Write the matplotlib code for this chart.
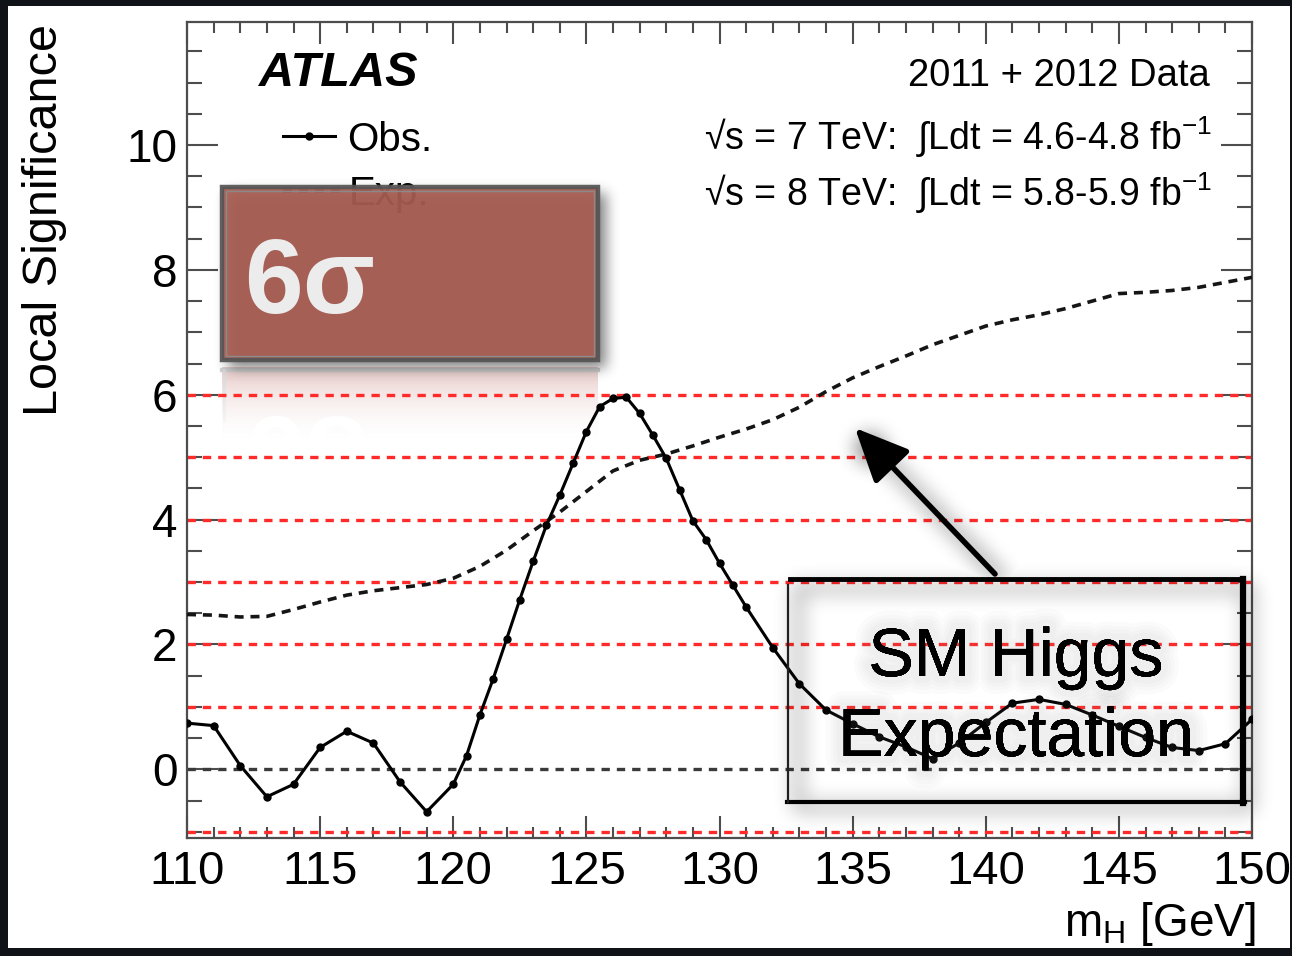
import numpy as np
import matplotlib
matplotlib.use('Agg')
import matplotlib.pyplot as plt
from matplotlib.patches import Rectangle, PathPatch
from matplotlib.textpath import TextPath
from matplotlib.font_manager import FontProperties
from matplotlib.ticker import MultipleLocator
import matplotlib.patheffects as pe

# ---------------- data ----------------
mass_obs = [110, 111, 112, 113, 114, 115, 116, 117, 118, 119, 120,
            120.5, 121, 121.5, 122, 122.5, 123, 123.5, 124, 124.5, 125,
            125.5, 126, 126.5, 127, 127.5, 128, 128.5, 129, 129.5, 130,
            130.5, 131, 132, 133, 134, 135, 136, 137, 138, 139, 140,
            141, 142, 143, 144, 145, 146, 147, 148, 149, 150]
z_obs = [0.74, 0.70, 0.06, -0.44, -0.24, 0.35, 0.61, 0.42, -0.20, -0.68, -0.24,
         0.22, 0.87, 1.45, 2.08, 2.72, 3.33, 3.91, 4.39, 4.90, 5.41,
         5.81, 5.94, 5.96, 5.70, 5.35, 4.98, 4.48, 3.98, 3.68, 3.30,
         2.95, 2.60, 1.95, 1.37, 0.95, 0.73, 0.52, 0.36, 0.17, 0.42, 0.75,
         1.06, 1.12, 1.04, 0.87, 0.69, 0.51, 0.35, 0.30, 0.41, 0.80]

mass_exp = [110, 111, 112, 113, 114, 115, 116, 117, 118, 119, 120,
            121, 122, 123, 124, 125, 126, 127, 128, 129, 130,
            131, 132, 133, 134, 135, 136, 137, 138, 139, 140,
            141, 142, 143, 144, 145, 146, 147, 148, 149, 150]
z_exp = [2.48, 2.47, 2.44, 2.45, 2.56, 2.68, 2.79, 2.86, 2.91, 2.96, 3.06,
         3.25, 3.51, 3.82, 4.12, 4.45, 4.78, 4.95, 5.05, 5.18, 5.32,
         5.45, 5.60, 5.80, 6.05, 6.27, 6.45, 6.62, 6.80, 6.95, 7.10,
         7.20, 7.28, 7.38, 7.50, 7.62, 7.64, 7.67, 7.72, 7.80, 7.88]

sigma_levels = [1, 2, 3, 4, 5, 6, -1]
zero_level = [0]
xtick_values = [110, 115, 120, 125, 130, 135, 140, 145, 150]
ytick_values = [0, 2, 4, 6, 8, 10]

# ---------------- figure ----------------
W, H, DPI = 1292, 956, 100
plt.rcParams['font.family'] = ['Liberation Sans', 'DejaVu Sans']
plt.rcParams['mathtext.fontset'] = 'custom'
plt.rcParams['mathtext.rm'] = 'Liberation Sans'
plt.rcParams['mathtext.it'] = 'Liberation Sans:italic'
plt.rcParams['mathtext.bf'] = 'Liberation Sans:bold'

fig = plt.figure(figsize=(W / DPI, H / DPI), dpi=DPI, facecolor='#0f1216')


def fx(px):
    return px / W


def fy(py):
    return 1 - py / H


# white page
fig.patches.append(Rectangle((fx(8), fy(948)), (1290 - 8) / W, (948 - 6) / H,
                             transform=fig.transFigure, facecolor='white',
                             edgecolor='none', zorder=0))

# ---------------- under-layer (pixel coords): reflection ----------------
ovu = fig.add_axes([0, 0, 1, 1], zorder=0.5)
ovu.set_xlim(0, W)
ovu.set_ylim(H, 0)
ovu.axis('off')
ovu.patch.set_alpha(0)

refl_top, refl_h = 368, 105
grad = np.zeros((refl_h, 376, 4))
grad[..., 0] = 0.78
grad[..., 1] = 0.50
grad[..., 2] = 0.47
grad[..., 3] = np.linspace(0.45, 0.0, refl_h)[:, None] ** 1.3
ovu.imshow(grad, extent=(222, 598, refl_top + refl_h, refl_top), zorder=1,
           interpolation='bilinear')
ovu.plot([222, 598], [370, 370], color='#d2d2d2', lw=3, zorder=1)
ovu.plot([224, 224], [370, 420], color='#dcdcdc', lw=2, zorder=1)
# mirrored "6σ" (text path drawn with y increasing downward = upside down)
tp = TextPath((246, 417), '6σ', size=105,
              prop=FontProperties(family='Liberation Sans', weight='bold'))
ovu.add_patch(PathPatch(tp, facecolor='white', edgecolor='none', zorder=2))
# fade-out cover
cover = np.ones((refl_h, 376, 4))
cover[..., 3] = np.clip(np.linspace(-0.2, 1.6, refl_h), 0, 1)[:, None]
ovu.imshow(cover, extent=(222, 598, refl_top + refl_h, refl_top), zorder=3,
           interpolation='bilinear')
ovu.add_patch(Rectangle((222, refl_top + refl_h), 376, 40, facecolor='white',
                        edgecolor='none', zorder=3))

# ---------------- main axes ----------------
ax = fig.add_axes([fx(187), fy(838), (1252 - 187) / W, (838 - 22) / H], zorder=1)
ax.patch.set_alpha(0)
ax.set_xlim(110, 150)
ax.set_ylim(-1.1, 11.97)

axis_col = '#4d4d4d'
for s in ax.spines.values():
    s.set_color(axis_col)
    s.set_linewidth(1.6)

ax.set_xticks(xtick_values)
ax.set_yticks(ytick_values)
ax.xaxis.set_minor_locator(MultipleLocator(1))
ax.yaxis.set_minor_locator(MultipleLocator(0.5))
ax.tick_params(which='both', direction='in', top=True, right=True,
               color=axis_col, width=1.5, labelsize=33)
ax.tick_params(axis='y', which='major', length=22, pad=7)
ax.tick_params(axis='y', which='minor', length=11)
ax.tick_params(axis='x', which='major', length=16, pad=9, labelsize=34)
ax.tick_params(axis='x', which='minor', length=8)

# sigma reference lines
for lv in sigma_levels:
    ax.axhline(lv, color='#ff2a2a', lw=2.4, ls=(0, (2.5, 2.1)), zorder=2)
for lv in zero_level:
    ax.axhline(lv, color='#3a3a3a', lw=2.4, ls=(0, (2.5, 2.1)), zorder=2)

ax.plot(mass_exp, z_exp, color='#151515', lw=2.6, ls=(0, (2.5, 1.9)), zorder=3)
ax.plot(mass_obs, z_obs, color='black', lw=2.2, marker='o', ms=5, zorder=4)

# axis labels
fig.text(fx(45), fy(24), 'Local Significance', rotation=90, ha='center',
         va='top', fontsize=35)
fig.text(fx(1256), fy(948), r'm$_{\mathregular{H}}$ [GeV]', ha='right',
         va='bottom', fontsize=33)

# ---------------- overlay (pixel coords) ----------------
ov = fig.add_axes([0, 0, 1, 1], zorder=5)
ov.set_xlim(0, W)
ov.set_ylim(H, 0)
ov.axis('off')
ov.patch.set_alpha(0)

ov.text(259, 86, 'ATLAS', fontsize=35, fontweight='bold', fontstyle='italic',
        va='baseline', ha='left', zorder=1)
ov.text(1210, 86, '2011 + 2012 Data', fontsize=27.5, ha='right',
        va='baseline', zorder=1)
ov.text(1212, 150, '√s = 7 TeV:  ∫Ldt = 4.6-4.8 fb$^{\\mathregular{-1}}$',
        fontsize=27, ha='right', va='baseline', zorder=1)
ov.text(1212, 206, '√s = 8 TeV:  ∫Ldt = 5.8-5.9 fb$^{\\mathregular{-1}}$',
        fontsize=27, ha='right', va='baseline', zorder=1)

# legend
ov.plot([283, 335], [136, 136], color='black', lw=2.2, zorder=1)
ov.plot([309], [136], marker='o', color='black', ms=5, zorder=1)
ov.text(347, 151, 'Obs.', fontsize=29, va='baseline', zorder=1)
ov.plot([283, 340], [191, 191], color='#151515', lw=2.6, ls=(0, (2.5, 1.9)), zorder=1)
ov.text(349, 205, 'Exp.', fontsize=29, va='baseline', zorder=1)


# ---------------- soft shadows ----------------
def box_blur(a, r, n=3):
    for _ in range(n):
        for axis in (0, 1):
            c = np.cumsum(np.pad(a, [(r + 1, r) if i == axis else (0, 0)
                                     for i in range(2)], mode='edge'), axis=axis)
            if axis == 0:
                a = (c[2 * r + 1:, :] - c[:-2 * r - 1, :]) / (2 * r + 1)
            else:
                a = (c[:, 2 * r + 1:] - c[:, :-2 * r - 1]) / (2 * r + 1)
    return a


yy, xx = np.mgrid[0:H, 0:W]
shadow = np.zeros((H, W))
# red box shadow
m1 = np.zeros((H, W))
m1[193:368, 228:606] = 1.0
shadow = np.maximum(shadow, box_blur(m1, 6) * 0.5)
# SM box frame shadow
m2 = np.zeros((H, W))
t = 6
x0, x1, y0, y1 = 795, 1252, 585, 810
m2[y0:y0 + t, x0:x1] = 1
m2[y1 - t:y1, x0:x1] = 1
m2[y0:y1, x0:x0 + t] = 1
m2[y0:y1, x1 - t:x1] = 1
shadow = np.maximum(shadow, box_blur(m2, 9) * 0.5)
# arrow shadow
ax_, ay_, bx_, by_ = 1003, 580, 866, 440
dx, dy = bx_ - ax_, by_ - ay_
tt = np.clip(((xx - ax_) * dx + (yy - ay_) * dy) / (dx * dx + dy * dy), 0, 1)
dist = np.hypot(xx - (ax_ + tt * dx), yy - (ay_ + tt * dy))
m3 = (dist < 4).astype(float)
m3[(np.hypot(xx - 870, yy - 448) < 14)] = 1.0
shadow = np.maximum(shadow, box_blur(m3, 9) * 0.55)

rgba = np.zeros((H, W, 4))
rgba[..., 3] = np.clip(shadow, 0, 1)
ov.imshow(rgba, extent=(0, W, H, 0), zorder=2, interpolation='bilinear')

# red box
ov.add_patch(Rectangle((222, 187), 376, 173, facecolor='#a85d52',
                       edgecolor='#555555', lw=3.2, alpha=0.93, zorder=3))
ov.add_patch(Rectangle((226, 191), 368, 165, facecolor='none',
                       edgecolor='#8a8a8a', lw=1.0, zorder=3))
ov.text(244, 313, '6σ', fontsize=76, fontweight='bold', color='#ececec',
        va='baseline', ha='left', zorder=4)

# SM Higgs box
ov.plot([790, 1243], [579, 579], color='black', lw=3.5, zorder=3)
ov.plot([1243, 1243], [579, 803], color='black', lw=4.5, zorder=3)
ov.plot([787, 1245], [802, 802], color='black', lw=3.0, zorder=3)
ov.plot([788, 788], [585, 802], color='#202020', lw=1.6, zorder=3)

glow = [pe.withStroke(linewidth=w, foreground=(0.5, 0.5, 0.5, 0.03))
        for w in (26, 20, 15, 10)] + [pe.Normal()]
ov.text(1016, 676, 'SM Higgs', fontsize=49, ha='center', va='baseline',
        zorder=4, path_effects=glow)
ov.text(1016, 756, 'Expectation', fontsize=49, ha='center', va='baseline',
        zorder=4, path_effects=glow)

# arrow
ov.annotate('', xy=(855, 428), xytext=(995, 574),
            arrowprops=dict(arrowstyle='-|>,head_length=1.1,head_width=0.5',
                            lw=4.0, color='black', shrinkA=0, shrinkB=0,
                            mutation_scale=30), zorder=4)

fig.savefig('out.png', dpi=DPI, facecolor=fig.get_facecolor())
